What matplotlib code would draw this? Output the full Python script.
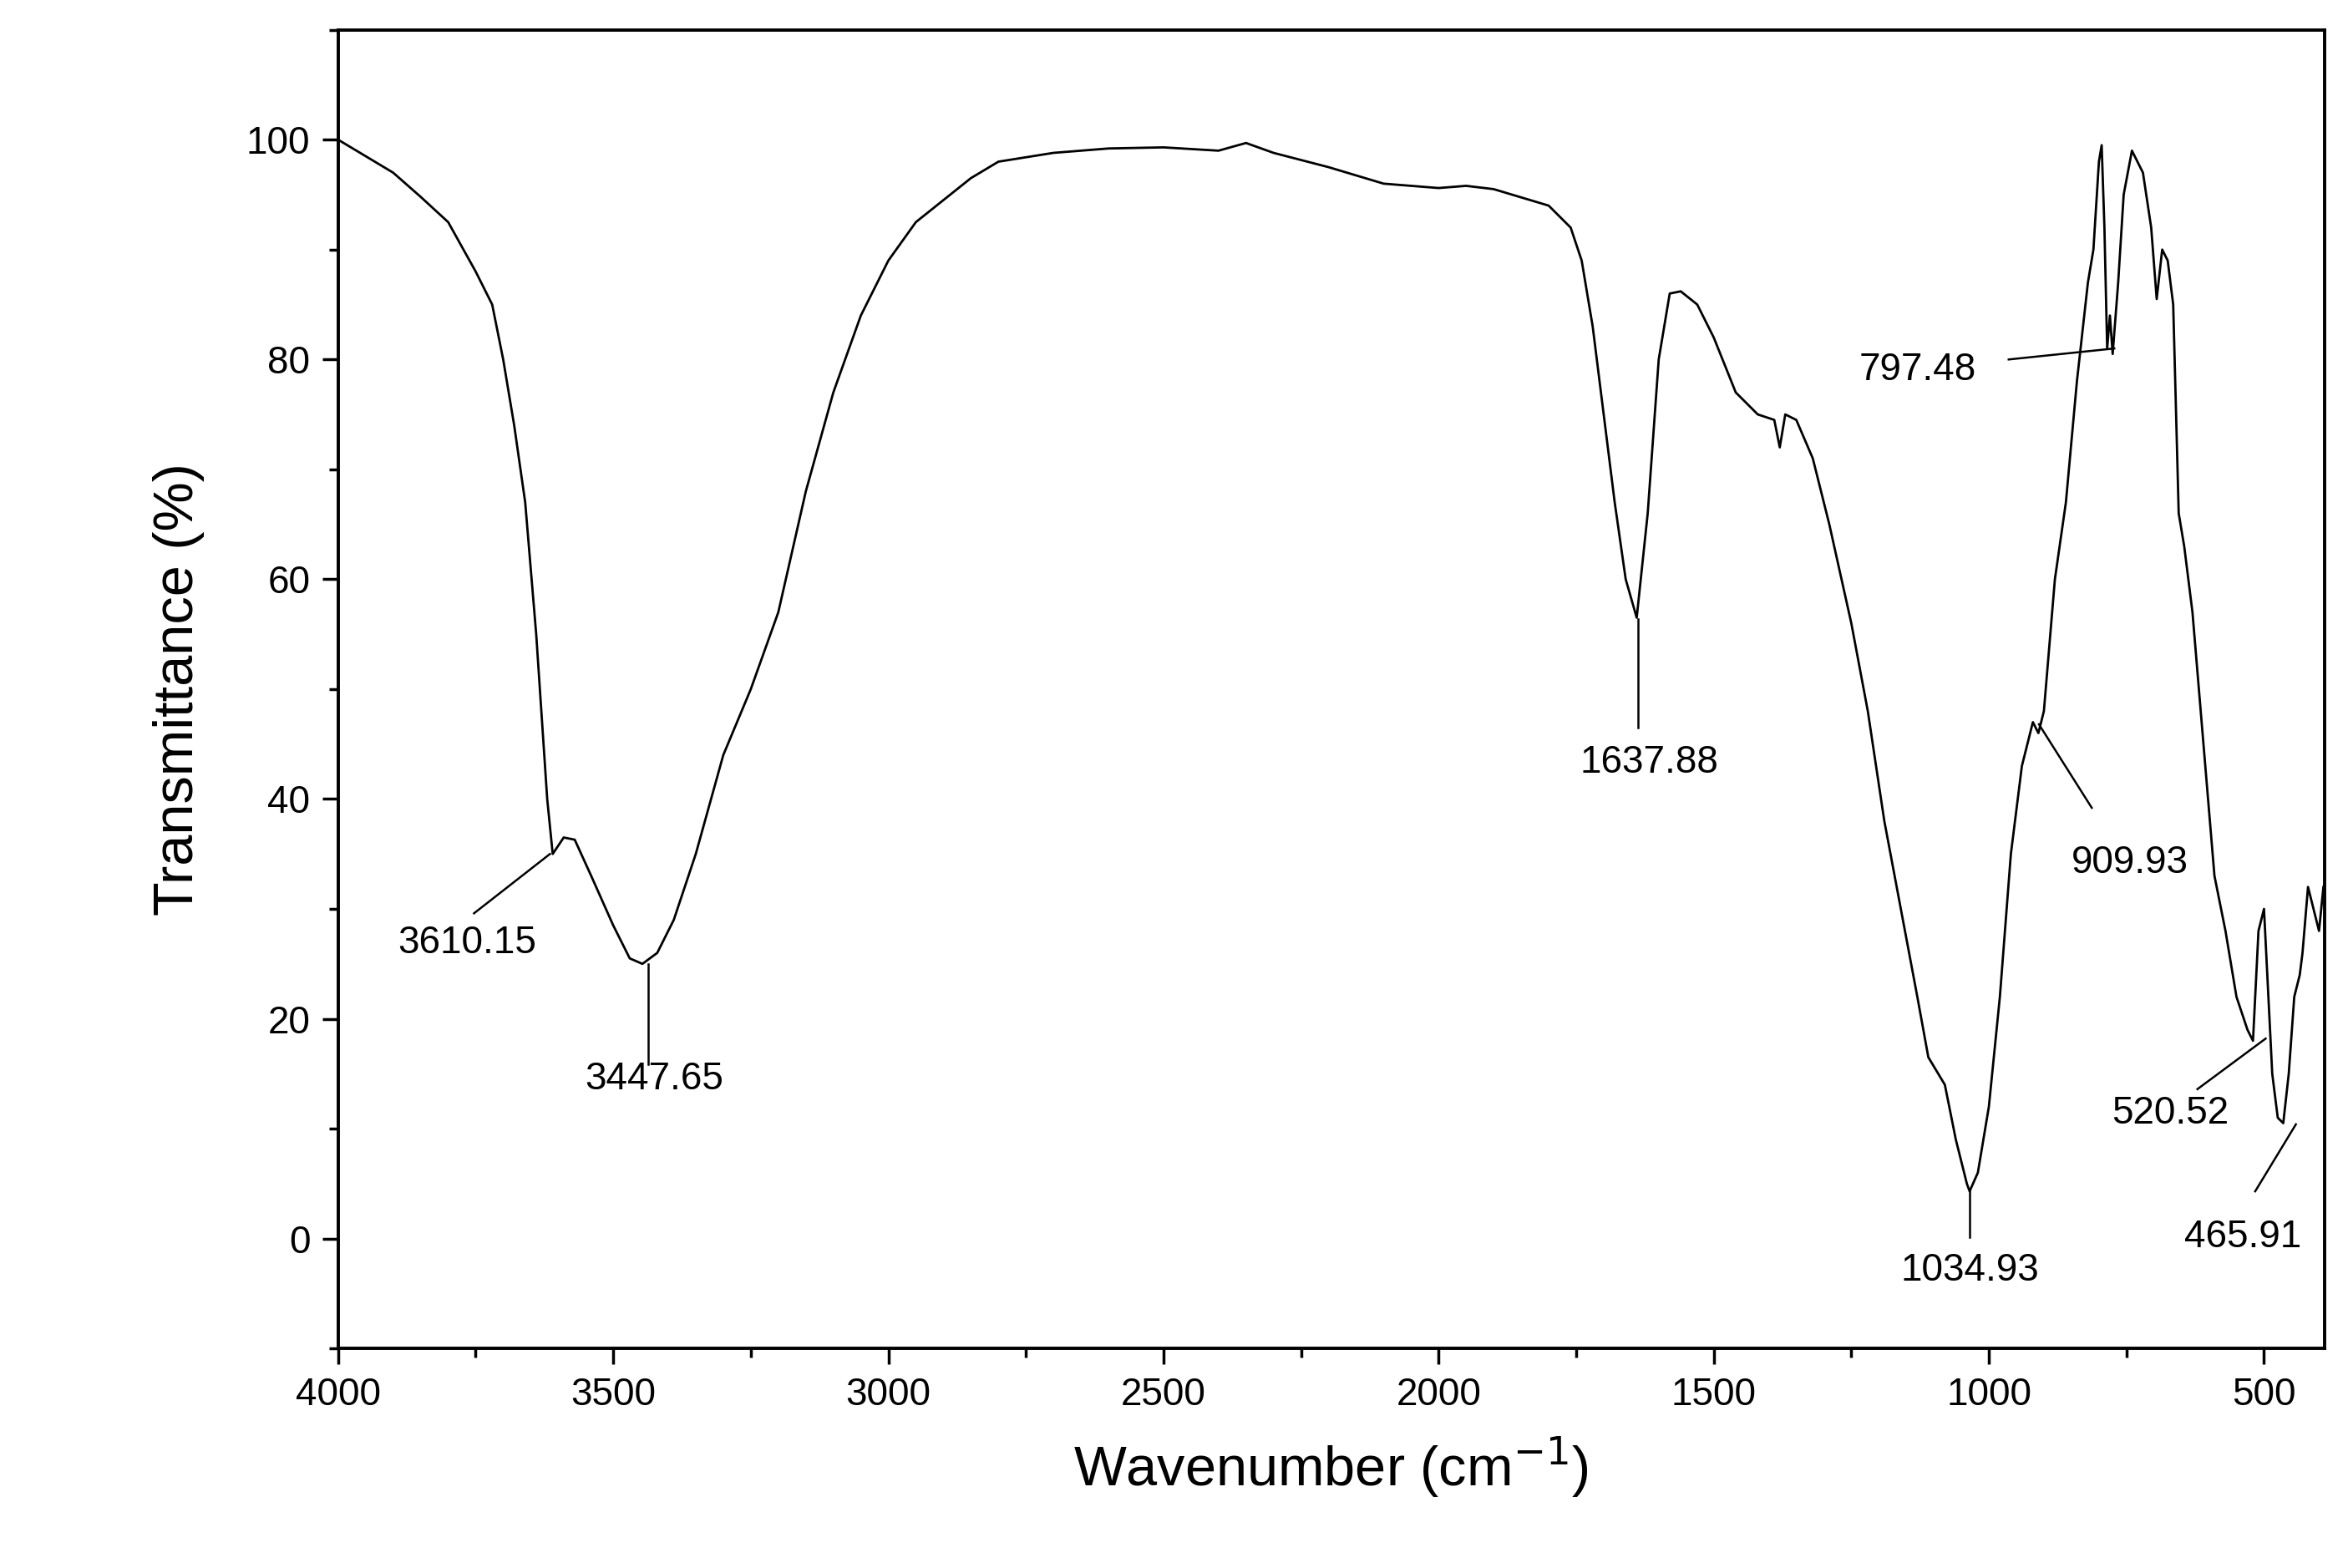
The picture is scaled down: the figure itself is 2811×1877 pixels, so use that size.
import matplotlib
matplotlib.use('Agg')
import matplotlib.pyplot as plt
from matplotlib.ticker import MultipleLocator

plt.rcParams['font.family'] = ['Liberation Sans', 'DejaVu Sans']

# FTIR spectrum
wavenumber = [4000, 3950, 3900, 3850, 3800, 3750, 3720, 3700, 3680, 3660, 3640, 3620, 3610,
              3590, 3570, 3540, 3500, 3470, 3447, 3420, 3390, 3350, 3300, 3250, 3200, 3150,
              3100, 3050, 3000, 2950, 2900, 2850, 2800, 2700, 2600, 2500, 2400, 2350, 2300,
              2200, 2100, 2000, 1950, 1900, 1800, 1760, 1740, 1720, 1700, 1680, 1660, 1640,
              1620, 1600, 1580, 1560, 1530, 1500, 1460, 1420, 1390, 1380, 1370, 1350, 1320,
              1290, 1250, 1220, 1190, 1160, 1130, 1110, 1080, 1060, 1040, 1035, 1020, 1000,
              980, 960, 940, 920, 910, 900, 880, 860, 840, 820, 810, 800, 795, 790, 785, 780,
              775, 765, 755, 740, 720, 705, 695, 685, 675, 665, 655, 645, 630, 610, 590, 570,
              550, 530, 520, 510, 500, 495, 485, 475, 465, 455, 445, 435, 430, 425, 420, 410,
              400, 392]
transmittance = [100, 98.5, 97, 94.8, 92.5, 88, 85, 80, 74, 67, 55, 40, 35,
                 36.5, 36.3, 33, 28.5, 25.5, 25, 26, 29, 35, 44, 50, 57, 68,
                 77, 84, 89, 92.5, 94.5, 96.5, 98, 98.8, 99.2, 99.3, 99, 99.7, 98.8,
                 97.5, 96, 95.6, 95.8, 95.5, 94, 92, 89, 83, 75, 67, 60, 56.5,
                 66, 80, 86, 86.2, 85, 82, 77, 75, 74.5, 72, 75, 74.5, 71,
                 65, 56, 48, 38, 30, 22, 16.5, 14, 9, 5, 4.3, 6, 12,
                 22, 35, 43, 47, 46, 48, 60, 67, 78, 87, 90, 98, 99.5, 92, 81, 84,
                 80.5, 87, 95, 99, 97, 92, 85.5, 90, 89, 85, 66, 63, 57, 45, 33, 28,
                 22, 19, 18, 28, 30, 25, 15, 11, 10.5, 15, 22, 24, 26, 29, 32, 30,
                 28, 32]

peak_labels = ['3610.15', '3447.65', '1637.88', '1034.93', '909.93', '797.48', '520.52', '465.91']
peak_points = [(3615, 35), (3437, 25), (1637, 56.4), (1035, 4.3), (909, 46.8), (772, 81), (497, 18.2), (442, 10.4)]
line_ends = [(3753, 29.6), (3437, 15.9), (1637, 46.5), (1035, 0.1), (813, 39.2), (964, 80), (621, 13.6), (516, 4.3)]
text_pos = [(3766, 26.9), (3425, 14.5), (1618, 43.3), (1035, -2.9), (744, 34.2), (1129, 79), (670, 11.4), (538, 0.1)]

fig = plt.figure(figsize=(28.11, 18.77), dpi=100)
ax = fig.add_axes([0.144, 0.14, 0.846, 0.841])

ax.plot(wavenumber, transmittance, color='black', linewidth=2)

for lab, p, e, t in zip(peak_labels, peak_points, line_ends, text_pos):
    ax.plot([p[0], e[0]], [p[1], e[1]], color='black', linewidth=1.8)
    ax.text(t[0], t[1], lab, fontsize=33, ha='center', va='center')

ax.set_xlim(4000, 390)
ax.set_ylim(-10, 110)
ax.xaxis.set_major_locator(MultipleLocator(500))
ax.xaxis.set_minor_locator(MultipleLocator(250))
ax.yaxis.set_major_locator(MultipleLocator(20))
ax.yaxis.set_minor_locator(MultipleLocator(10))
ax.tick_params(which='major', direction='out', length=14, width=2.5, labelsize=33, pad=10)
ax.tick_params(which='minor', direction='out', length=8, width=2.5)
for s in ax.spines.values():
    s.set_linewidth(2.8)

ax.set_xlabel('Wavenumber (cm$^{-1}$)', fontsize=48, labelpad=18)
ax.set_ylabel('Transmittance (%)', fontsize=48, labelpad=36)

plt.savefig('out.png', dpi=100)
